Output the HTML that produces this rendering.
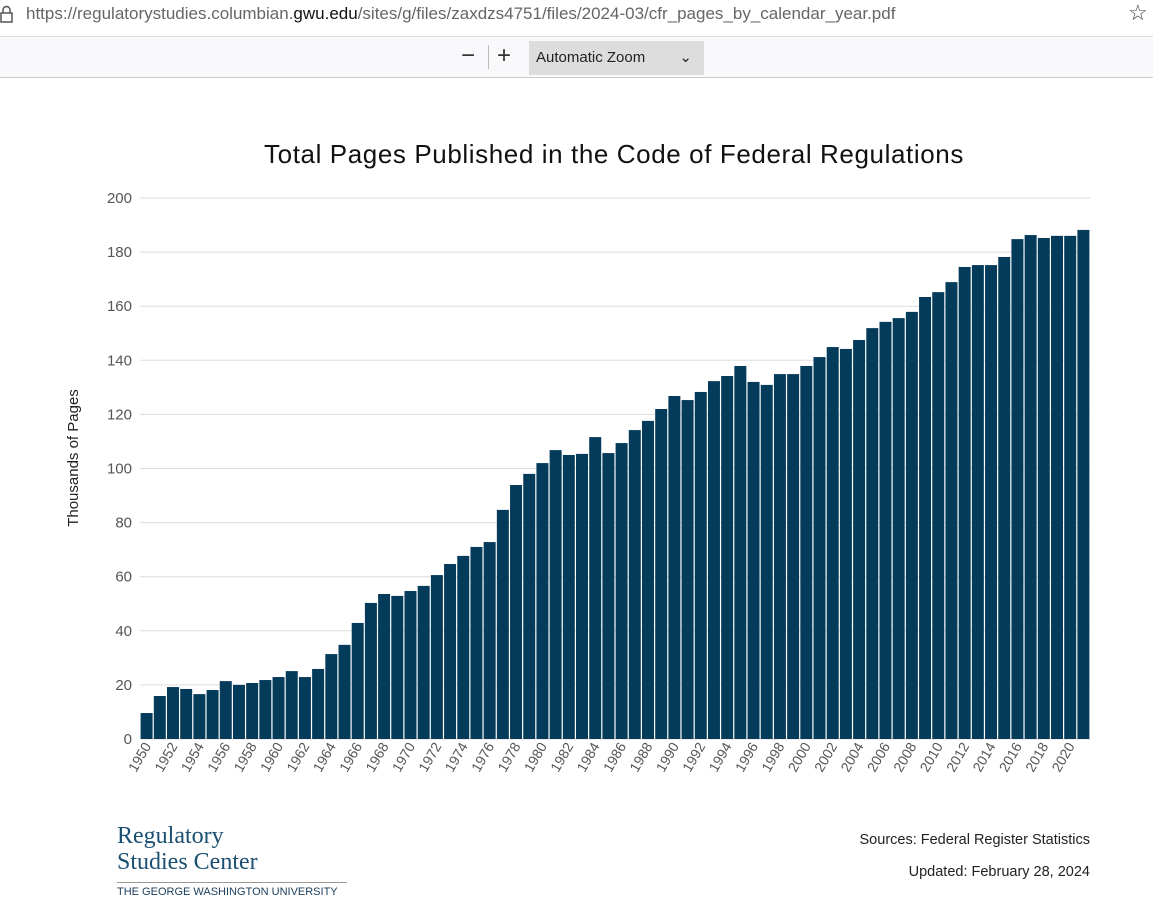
<!DOCTYPE html>
<html><head><meta charset="utf-8"><style>
body{margin:0;width:1153px;height:902px;overflow:hidden;background:#fff;font-family:"Liberation Sans",sans-serif;position:relative}
.abs{position:absolute}
</style></head><body>
<div class="abs" style="left:0;top:0;width:1153px;height:36px;background:#fff;border-bottom:1px solid #ddd">
 <svg class="abs" style="left:0;top:4px" width="14" height="20"><rect x="1" y="9" width="11" height="9" fill="none" stroke="#555" stroke-width="1.5"/><path d="M3 9V6a3.5 3.5 0 0 1 7 0v3" fill="none" stroke="#555" stroke-width="1.5"/></svg>
 <div class="abs" style="left:26px;top:4px;font-size:17px;color:#666">https://regulatorystudies.columbian.<span style="color:#111">gwu.edu</span>/sites/g/files/zaxdzs4751/files/2024-03/cfr_pages_by_calendar_year.pdf</div>
 <div class="abs" style="left:1128px;top:0;font-size:22px;color:#444">☆</div>
</div>
<div class="abs" style="left:0;top:37px;width:1153px;height:40px;background:#f9f9fb;border-bottom:1px solid #ccc">
 <div class="abs" style="left:461px;top:5px;font-size:24px;color:#333">−</div>
 <div class="abs" style="left:488px;top:8px;width:1px;height:24px;background:#bbb"></div>
 <div class="abs" style="left:497px;top:5px;font-size:24px;color:#333">+</div>
 <div class="abs" style="left:529px;top:4px;width:175px;height:34px;background:#ddd;font-size:15px;color:#222;line-height:34px;padding-left:7px;box-sizing:border-box">Automatic Zoom<span style="position:absolute;right:12px;top:0">⌄</span></div>
</div>
<svg class="abs" style="left:0;top:0" width="1153" height="902" id="chart"></svg>
<div class="abs" style="left:117px;top:823px;font-family:'Liberation Serif',serif;color:#1b4f72;font-size:24px;line-height:26px">Regulatory<br>Studies Center
 <div style="border-top:1px solid #999;margin-top:7px;padding-top:2px;font-family:'Liberation Sans',sans-serif;font-size:11px;line-height:14px;color:#1b3d5c;white-space:nowrap;width:230px">THE GEORGE WASHINGTON UNIVERSITY</div></div>
<div class="abs" style="right:63px;top:832px;font-size:14.5px;color:#222">Sources: Federal Register Statistics</div>
<div class="abs" style="right:63px;top:864px;font-size:14.5px;color:#222">Updated: February 28, 2024</div>
<script>
const years=[];for(let y=1950;y<=2021;y++)years.push(y);
const pages=[9.6,15.9,19.2,18.5,16.6,18.1,21.4,20,20.7,21.8,22.9,25.1,22.9,25.9,31.4,34.8,42.9,50.3,53.6,52.9,54.7,56.6,60.6,64.7,67.7,71,72.8,84.7,93.9,98,102,106.8,105,105.4,111.6,105.7,109.4,114.2,117.6,122,126.8,125.3,128.3,132.3,134.2,137.9,132,130.9,134.9,134.9,137.9,141.2,144.9,144.2,147.5,151.9,154.2,155.6,157.9,163.4,165.2,168.9,174.5,175.2,175.2,178.2,184.8,186.3,185.2,186,186,188.2];
const yTicks=[0,20,40,60,80,100,120,140,160,180,200];
const NS="http://www.w3.org/2000/svg",svg=document.getElementById('chart');
const x0=140,x1=1090,yb=739,yt=198;
const band=(x1-x0)/years.length;
const yS=v=>yb-(v/200)*(yb-yt);
const xS=i=>x0+i*band;
function mk(t,a){const e=document.createElementNS(NS,t);for(const k in a)e.setAttribute(k,a[k]);svg.appendChild(e);return e;}
let t=mk('text',{x:614,y:163,'text-anchor':'middle','font-size':26,fill:'#111','letter-spacing':'0.6','font-family':'Liberation Sans'});t.textContent='Total Pages Published in the Code of Federal Regulations';


yTicks.forEach(v=>{
 const g=mk('line',{x1:x0,x2:x1,y1:yS(v),y2:yS(v),stroke:'#ddd','stroke-width':1});
 
 
 const l=mk('text',{x:132,y:yS(v)+5,'text-anchor':'end','font-size':15,fill:'#555'});l.textContent=v;
 
 
});
t=mk('text',{x:78,y:458,'text-anchor':'middle','font-size':15,fill:'#222',transform:'rotate(-90 78 458)'});t.textContent='Thousands of Pages';


pages.forEach((v,i)=>{
 const r=mk('rect',{x:xS(i)+0.6,y:yS(v),width:band-1.2,height:yb-yS(v),fill:'#043a5a'});
 
 
});
years.forEach((y,i)=>{
 if(i%2)return;
 const cx=xS(i)+band/2+5,cy=746;
 const l=mk('text',{x:cx,y:cy,'text-anchor':'end','font-size':14,fill:'#555',transform:`rotate(-60 ${cx} ${cy})`});l.textContent=y;
 
 
});
</script>
</body></html>
